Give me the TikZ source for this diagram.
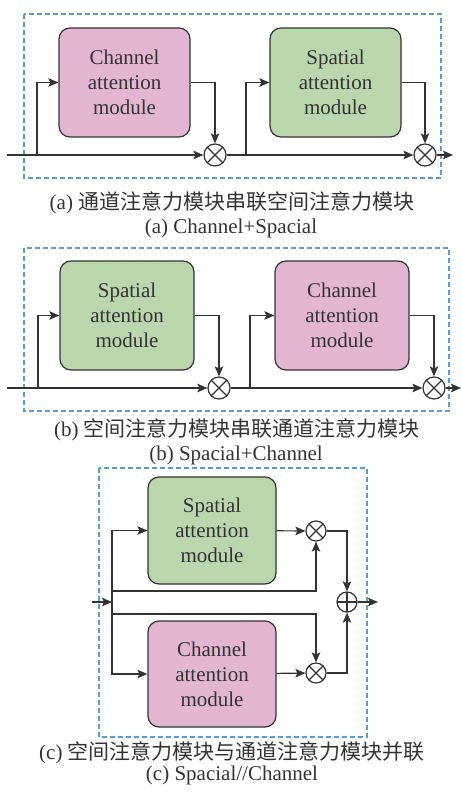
\documentclass[tikz,border=0pt]{standalone}
\usepackage{fontspec}
\setmainfont{Liberation Serif}
\newfontfamily\cjkfont{Noto Sans CJK SC}
\usetikzlibrary{arrows.meta}
\definecolor{chpink}{RGB}{226,182,209}
\definecolor{spgreen}{RGB}{186,214,173}
\definecolor{frameblue}{RGB}{91,155,213}
\definecolor{ink}{RGB}{51,51,51}
\tikzset{
  module/.style={draw=ink, line width=1.2pt, rounded corners=11pt, align=center,
    minimum height=109pt, text=ink, font=\fontsize{21}{25}\selectfont},
  mult/.style={draw=ink, circle, line width=1.2pt, inner sep=0pt, minimum size=#1,
    path picture={\draw[ink, line width=1.2pt]
      (path picture bounding box.north west) -- (path picture bounding box.south east)
      (path picture bounding box.south west) -- (path picture bounding box.north east);}},
  plus/.style={draw=ink, circle, line width=1.2pt, inner sep=0pt, minimum size=#1,
    path picture={\draw[ink, line width=1.2pt]
      (path picture bounding box.north) -- (path picture bounding box.south)
      (path picture bounding box.west) -- (path picture bounding box.east);}},
  frame/.style={draw=frameblue, line width=1.1pt, dash pattern=on 5pt off 3pt},
  caption/.style={text=ink, font=\fontsize{21}{25}\selectfont},
  flow/.style={draw=ink, line width=1.2pt, ->}
}
\begin{document}
\begin{tikzpicture}[x=1pt, y=-1pt, >={Stealth[length=10pt, width=8.5pt, inset=2pt]}]
 \useasboundingbox (0,0) rectangle (461,792);

 % (a) channel then spatial
 \draw[frame] (24,14) rectangle (441,178);
 \node[module, fill=chpink, minimum width=131pt] (a-ch) at (124.5,82.5) {Channel\\attention\\module};
 \node[module, fill=spgreen, minimum width=131pt] (a-sp) at (335.5,82.5) {Spatial\\attention\\module};
 \node[mult=22pt] (a-m1) at (215,155) {};
 \node[mult=22pt] (a-m2) at (425,155) {};
 \coordinate (a-in) at (7,155);
 \coordinate (a-s1) at (37,155);
 \coordinate (a-s2) at (246,155);
 \coordinate (a-out) at (453,155);
 \draw[flow] (a-in) -- (a-m1);
 \draw[flow] (a-s1) |- (a-ch);
 \draw[flow] (a-ch.east) -| (a-m1);
 \draw[flow] (a-m1) -- (a-m2);
 \draw[flow] (a-s2) |- (a-sp);
 \draw[flow] (a-sp.east) -| (a-m2);
 \draw[flow] (a-m2) -- (a-out);
 \node[caption] (a-cap1) at (232,203) {(a) {\cjkfont 通道注意力模块串联空间注意力模块}};
 \node[caption] (a-cap2) at (231,228) {(a) Channel+Spacial};

 % (b) spatial then channel
 \draw[frame] (24,248) rectangle (449,411);
 \node[module, fill=spgreen, minimum width=134pt] (b-sp) at (127,315.5) {Spatial\\attention\\module};
 \node[module, fill=chpink, minimum width=134pt] (b-ch) at (342,315.5) {Channel\\attention\\module};
 \node[mult=22pt] (b-m1) at (219,388) {};
 \node[mult=22pt] (b-m2) at (434,388) {};
 \coordinate (b-in) at (7,388);
 \coordinate (b-s1) at (38,388);
 \coordinate (b-s2) at (250,388);
 \coordinate (b-out) at (461,388);
 \draw[flow] (b-in) -- (b-m1);
 \draw[flow] (b-s1) |- (b-sp);
 \draw[flow] (b-sp.east) -| (b-m1);
 \draw[flow] (b-m1) -- (b-m2);
 \draw[flow] (b-s2) |- (b-ch);
 \draw[flow] (b-ch.east) -| (b-m2);
 \draw[flow] (b-m2) -- (b-out);
 \node[caption] (b-cap1) at (237,430) {(b) {\cjkfont 空间注意力模块串联通道注意力模块}};
 \node[caption] (b-cap2) at (236,455) {(b) Spacial+Channel};

 % (c) both branches in parallel
 \draw[frame] (99,468) rectangle (367,737);
 \node[module, fill=spgreen, minimum width=128pt, minimum height=107pt] (c-sp) at (212,530.5) {Spatial\\attention\\module};
 \node[module, fill=chpink, minimum width=128pt, minimum height=106pt] (c-ch) at (212,674) {Channel\\attention\\module};
 \node[mult=20pt] (c-m1) at (316,531) {};
 \node[mult=20pt] (c-m2) at (316,673) {};
 \node[plus=20pt] (c-add) at (347,602) {};
 \coordinate (c-in) at (92,602);
 \coordinate (c-s) at (112,602);
 \coordinate (c-u) at (112,591);
 \coordinate (c-d) at (112,614);
 \coordinate (c-out) at (378,602);
 \draw[flow] (c-in) -- (c-s);
 \draw[flow] (c-s) |- (c-sp);
 \draw[flow] (c-s) |- (c-ch);
 \draw[flow] (c-sp) -- (c-m1);
 \draw[flow] (c-ch) -- (c-m2);
 \draw[flow] (c-u) -| (c-m1);
 \draw[flow] (c-d) -| (c-m2);
 \draw[flow] (c-m1) -| (c-add);
 \draw[flow] (c-m2) -| (c-add);
 \draw[flow] (c-add) -- (c-out);
 \node[caption] (c-cap1) at (232,753) {(c) {\cjkfont 空间注意力模块与通道注意力模块并联}};
 \node[caption] (c-cap2) at (232,775) {(c) Spacial//Channel};
\end{tikzpicture}
\end{document}
